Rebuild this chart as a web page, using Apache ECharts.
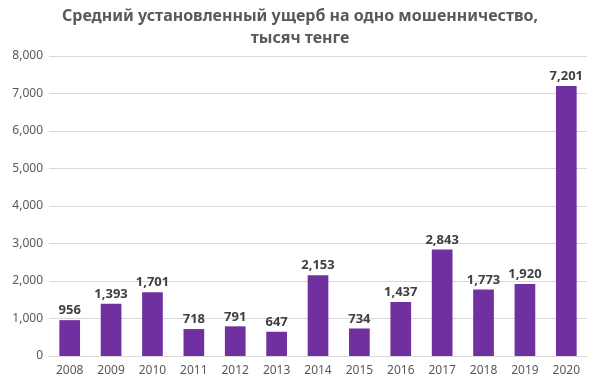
<!DOCTYPE html>
<html><head><meta charset="utf-8">
<script src="https://cdn.jsdelivr.net/npm/echarts@6/dist/echarts.min.js"></script>
<style>html,body{margin:0;padding:0;background:#fff}#c{width:600px;height:391px}</style>
</head><body><div id="c"></div>
<script>
const categories = ['2008','2009','2010','2011','2012','2013','2014','2015','2016','2017','2018','2019','2020'];
const values = [956,1393,1701,718,791,647,2153,734,1437,2843,1773,1920,7201];
const titleText = 'Средний установленный ущерб на одно мошенничество,\nтысяч тенге';
const fmt = v => v.toLocaleString('en-US');
const chart = echarts.init(document.getElementById('c'));
chart.setOption({
  animation:false,
  title:{text:titleText,left:'center',top:0,textStyle:{fontFamily:'Noto Sans',fontSize:16,fontWeight:'bold',color:'#595959',lineHeight:22}},
  grid:{left:49,right:13,top:56,bottom:35},
  xAxis:{type:'category',data:categories,axisTick:{show:false},axisLine:{lineStyle:{color:'#d9d9d9'}},
    axisLabel:{color:'#595959',fontFamily:'Noto Sans',fontSize:12,margin:9}},
  yAxis:{type:'value',min:0,max:8000,interval:1000,axisLine:{show:false},axisTick:{show:false},
    splitLine:{lineStyle:{color:'#d9d9d9'}},
    axisLabel:{color:'#595959',fontFamily:'Noto Sans',fontSize:12,formatter:fmt,margin:6}},
  series:[{type:'bar',data:values,barWidth:'50%',itemStyle:{color:'#7030A0'},
    label:{show:true,position:'top',formatter:p=>fmt(p.value),color:'#404040',fontFamily:'Noto Sans',fontSize:13,fontWeight:'bold',distance:3}}]
});
</script></body></html>
